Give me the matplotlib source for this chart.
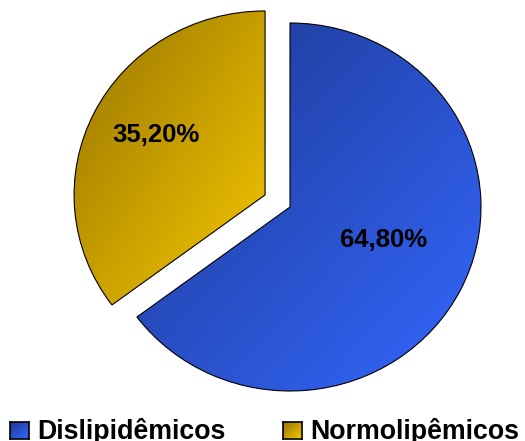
import numpy as np
import matplotlib
matplotlib.use("Agg")
import matplotlib.pyplot as plt
from matplotlib.colors import LinearSegmentedColormap

categories = ["Dislipidêmicos", "Normolipêmicos"]
values = [64.80, 35.20]
value_labels = ["64,80%", "35,20%"]
explode = [0.0, 0.146]

# dark -> bright colour pairs for the diagonal gradient of each slice
grad_colors = [("#1d378f", "#3468ff"), ("#967400", "#f7c900")]

W, H = 525, 441
fig = plt.figure(figsize=(W / 100, H / 100), dpi=100)
ax = fig.add_axes([0, 0, 1, 1])

wedges, _ = ax.pie(values, explode=explode, startangle=90, counterclock=False,
                   colors=["none", "none"],
                   wedgeprops=dict(edgecolor="black", linewidth=0.8))

# pixel scale of the unit radius (slightly wider than tall)
rx, ry = 191.0, 184.0
cx, cy = 290.0, 207.0

# diagonal gradient: dark at top-left, bright at bottom-right
n = 256
gx, gy = np.meshgrid(np.linspace(0, 1, n), np.linspace(0, 1, n))
grad = (gx + gy) / 2.0

for w, (c0, c1) in zip(wedges, grad_colors):
    cmap = LinearSegmentedColormap.from_list("g", [c0, c1])
    pts = w.get_patch_transform().transform(w.get_path().vertices)
    x0, x1 = pts[:, 0].min(), pts[:, 0].max()
    y0, y1 = pts[:, 1].min(), pts[:, 1].max()
    im = ax.imshow(grad, cmap=cmap, extent=[x0, x1, y0, y1], origin="upper",
                   interpolation="bilinear", zorder=0.5, aspect="auto")
    im.set_clip_path(w)
    w.set_zorder(1)

ax.set_aspect("auto")
ax.set_xlim(-cx / rx, (W - cx) / rx)
ax.set_ylim(-(H - cy) / ry, cy / ry)
ax.axis("off")

# value labels: (radius, angle in degrees) from each slice's own centre
label_pos = [(0.52, -20.0), (0.657, 150.3)]
for w, lab, (r, a) in zip(wedges, value_labels, label_pos):
    ang = np.deg2rad(a)
    ox, oy = w.center
    ax.text(ox + r * np.cos(ang), oy + r * np.sin(ang), lab,
            ha="center", va="center", fontsize=18.5, fontweight="bold",
            family="Liberation Sans", color="black", zorder=3)

# legend along the bottom edge
leg_x = [10, 283]
for x, name, (c0, c1) in zip(leg_x, categories, grad_colors):
    cmap = LinearSegmentedColormap.from_list("g", [c0, c1])
    lax = fig.add_axes([x / W, (H - 439) / H, 19 / W, 17 / H])
    lax.imshow(grad, cmap=cmap, aspect="auto", interpolation="bilinear")
    lax.set_xticks([])
    lax.set_yticks([])
    for s in lax.spines.values():
        s.set_linewidth(1.2)
        s.set_color("black")
    fig.text((x + 27.5) / W, (H - 439) / H, name, ha="left", va="baseline",
             fontsize=19.3, fontweight="bold", family="Liberation Sans",
             color="black")

fig.savefig("out.png", dpi=100)
